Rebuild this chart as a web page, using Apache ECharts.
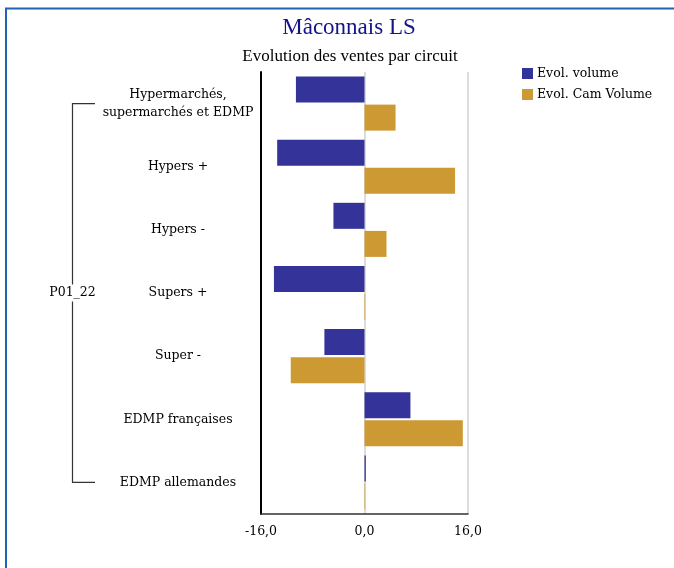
<!DOCTYPE html>
<html>
<head>
<meta charset="utf-8">
<script src="https://cdn.jsdelivr.net/npm/echarts@6/dist/echarts.min.js"></script>
<style>
html,body{margin:0;padding:0;background:#fff;}
#chart{width:674px;height:568px;}
</style>
</head>
<body>
<div id="chart"></div>
<script>
const categories = [
  "Hypermarchés,\nsupermarchés et EDMP",
  "Hypers +",
  "Hypers -",
  "Supers +",
  "Super -",
  "EDMP françaises",
  "EDMP allemandes"
];
const seriesNames = ["Evol. volume", "Evol. Cam Volume"];
const evolVolume = [-10.6, -13.5, -4.8, -14.0, -6.2, 7.1, 0.2];
const evolCamVolume = [4.8, 14.0, 3.4, 0.1, -11.4, 15.2, 0.1];
const xTicks = [-16, 0, 16];
const groupLabel = "P01_22";

const chart = echarts.init(document.getElementById('chart'));
const serif = "DejaVu Serif";
const option = {
  animation: false,
  backgroundColor: '#fff',
  title: [
    {text: 'Mâconnais LS', left: 344, top: 11, textAlign: 'center',
     textStyle: {fontFamily: 'Liberation Serif', fontSize: 23, fontWeight: 'normal', color: '#14148a'}},
    {text: 'Evolution des ventes par circuit', left: 345, top: 43, textAlign: 'center',
     textStyle: {fontFamily: 'Liberation Serif', fontSize: 17, fontWeight: 'normal', color: '#000'}}
  ],
  legend: {
    orient: 'vertical', left: 517, top: 62, itemWidth: 11, itemHeight: 11, itemGap: 8,
    icon: 'rect', textStyle: {fontFamily: serif, fontSize: 12.5, color: '#000', padding: [0,0,0,-1]},
    data: seriesNames
  },
  grid: {left: 261, right: 206, top: 72, bottom: 54, containLabel: false},
  xAxis: {
    type: 'value', min: xTicks[0], max: xTicks[xTicks.length-1], interval: 16,
    axisLine: {show: true, lineStyle: {color: '#333', width: 1.5}},
    axisTick: {show: false},
    splitLine: {show: true, lineStyle: {color: '#d0d0d0', width: 1.5}},
    axisLabel: {fontFamily: serif, fontSize: 12.5, color: '#000', margin: 11,
      formatter: v => v.toFixed(1).replace('.', ',')}
  },
  yAxis: {
    type: 'category', data: categories, inverse: true,
    axisLine: {show: true, onZero: false, lineStyle: {color: '#000', width: 2}},
    axisTick: {show: false},
    axisLabel: {fontFamily: serif, fontSize: 12.5, color: '#000', align: 'center', margin: 83, lineHeight: 18}
  },
  series: [
    {name: seriesNames[0], type: 'bar', data: evolVolume, barWidth: 26, barGap: '8%',
     itemStyle: {color: '#333399'}},
    {name: seriesNames[1], type: 'bar', data: evolCamVolume, barWidth: 26, barGap: '8%',
     itemStyle: {color: '#CC9933'}}
  ]
};
chart.setOption(option);

const yTop = chart.convertToPixel({yAxisIndex: 0}, categories[0]);
const yBot = chart.convertToPixel({yAxisIndex: 0}, categories[categories.length-1]);
const bx = 72.5, bx2 = 95;
chart.setOption({
  graphic: [
    {type: 'line', shape: {x1: 5, y1: 8.5, x2: 674, y2: 8.5}, style: {stroke: '#1d64b4', lineWidth: 2}},
    {type: 'line', shape: {x1: 6, y1: 8, x2: 6, y2: 568}, style: {stroke: '#1d64b4', lineWidth: 2}},
    {type: 'polyline', shape: {points: [[bx2, yTop], [bx, yTop], [bx, yBot], [bx2, yBot]]},
     style: {stroke: '#333', lineWidth: 1.2, fill: null}},
    {type: 'text', x: bx, y: (yTop + yBot) / 2, z: 10,
     style: {text: groupLabel, font: '12.5px "DejaVu Serif"', fill: '#000', align: 'center', verticalAlign: 'middle',
       backgroundColor: '#fff', padding: [2, 0, 2, 0]}}
  ]
});
</script>
</body>
</html>
